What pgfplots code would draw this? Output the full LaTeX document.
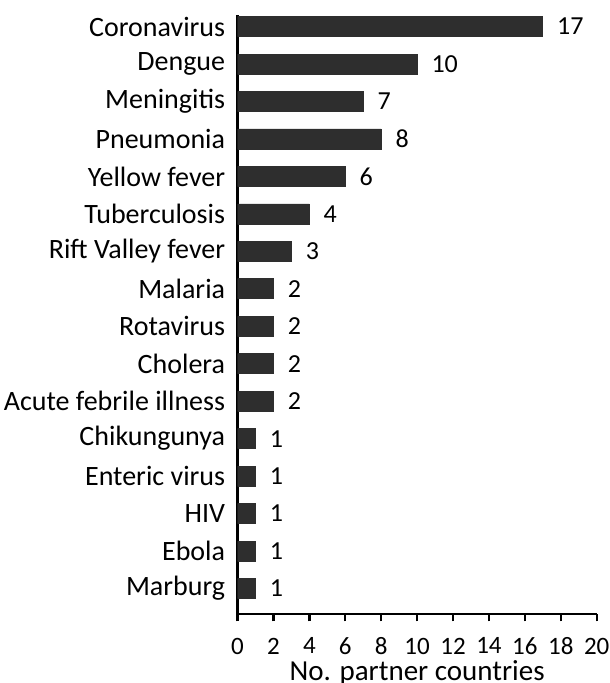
\documentclass[border=0pt]{standalone}
\usepackage{fontspec}
\setmainfont{Carlito}
\usepackage{pgfplots}
\pgfplotsset{compat=1.18}
\definecolor{barGray}{HTML}{2E2E2E}

\begin{document}
\begin{tikzpicture}
% page frame, the x label is cut at the bottom as in the source
\clip (-118.75pt,-34.5pt) rectangle (185.75pt,307pt);
\begin{axis}[
  at={(0,0)}, anchor=south west,
  scale only axis, width=179.6pt, height=299.5pt,
  xbar, bar width=10pt,
  xmin=0, xmax=20, xtick={0,2,...,20},
  ymin=-0.68, ymax=15.31,
  ytick={0,...,15},
  yticklabels={Marburg, Ebola, HIV, Enteric virus, Chikungunya,
    Acute febrile illness, Cholera, Rotavirus, Malaria, Rift Valley fever,
    Tuberculosis, Yellow fever, Pneumonia, Meningitis, Dengue, Coronavirus},
  axis x line*=bottom, axis y line*=left,
  axis line style={-, line width=1.2pt, black},
  xtick style={line width=1.2pt, black},
  ytick style={draw=none},
  tick align=outside, major tick length=3.75pt,
  /pgf/number format/assume math mode=true,
  xticklabel style={font=\fontsize{12.5}{14}\selectfont, inner sep=0pt, yshift=-8pt},
  yticklabel style={font=\fontsize{14}{16}\selectfont, inner sep=0pt, xshift=-2.25pt},
  xlabel={No. partner countries},
  xlabel style={font=\fontsize{14.5}{17}\selectfont, inner sep=0pt,
    at={(axis description cs:0.5,0)}, anchor=north, yshift=-23pt},
  nodes near coords,
  every node near coord/.append style={font=\fontsize{13}{15}\selectfont,
    anchor=west, inner sep=0pt, xshift=7pt, text=black},
]
\addplot[fill=barGray, draw=barGray] coordinates {
  (1,0) (1,1) (1,2) (1,3) (1,4)
  (2,5) (2,6) (2,7) (2,8) (3,9)
  (4,10) (6,11) (8,12) (7,13) (10,14) (17,15)
};
\end{axis}
\end{tikzpicture}
\end{document}
